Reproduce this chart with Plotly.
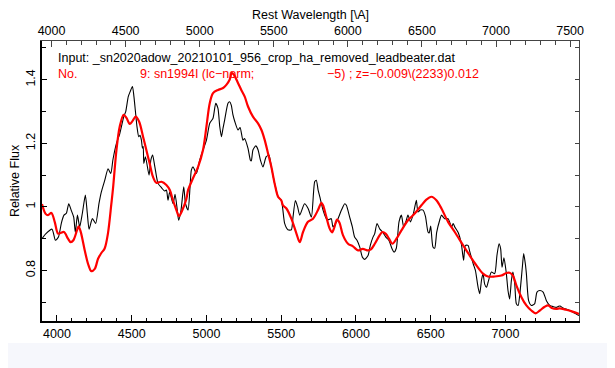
import plotly.graph_objects as go

# Observed spectrum (black): wavelength [A], relative flux
obs_wave = [3900, 3925, 3967, 3990, 4010, 4030, 4047, 4063, 4079, 4095, 4112, 4123, 4137, 4152, 4170, 4190,
            4203, 4215, 4237, 4259, 4281, 4297, 4320, 4342, 4360, 4375, 4398, 4420, 4447, 4460, 4477, 4490,
            4505, 4515, 4524, 4536, 4547, 4556, 4565, 4572, 4577, 4581, 4592, 4616, 4628, 4640, 4655, 4676,
            4700, 4720, 4732, 4743, 4754, 4777, 4790, 4805, 4814, 4830, 4848, 4860, 4877, 4890, 4899, 4910,
            4933, 4955, 4977, 5000, 5022, 5044, 5062, 5077, 5089, 5100, 5111, 5122, 5144, 5155, 5166, 5177,
            5190, 5211, 5225, 5244, 5255, 5278, 5294, 5300, 5311, 5330, 5345, 5361, 5378, 5400, 5418, 5434,
            5456, 5479, 5501, 5523, 5545, 5568, 5579, 5595, 5610, 5624, 5656, 5680, 5702, 5724, 5735, 5747,
            5758, 5780, 5802, 5815, 5835, 5846, 5860, 5880, 5903, 5925, 5936, 5958, 5976, 5991, 6007, 6025,
            6043, 6058, 6081, 6096, 6114, 6125, 6141, 6160, 6180, 6200, 6220, 6240, 6255, 6270, 6288, 6304,
            6319, 6335, 6348, 6365, 6385, 6404, 6415, 6430, 6449, 6465, 6482, 6490, 6500, 6515, 6527, 6540,
            6560, 6572, 6593, 6616, 6640, 6650, 6661, 6683, 6705, 6720, 6732, 6750, 6761, 6785, 6799, 6817,
            6828, 6840, 6850, 6861, 6873, 6884, 6906, 6928, 6943, 6957, 6968, 6977, 6990, 7005, 7017, 7028,
            7040, 7050, 7062, 7073, 7085, 7095, 7113, 7122, 7133, 7140, 7155, 7173, 7195, 7211, 7230, 7252,
            7274, 7296, 7320, 7340, 7355, 7365, 7385, 7420, 7455, 7492]
obs_flux = [0.90, 0.915, 0.93, 0.895, 0.905, 0.95, 0.974, 0.98, 1.01, 0.99, 0.968, 0.92, 0.974, 0.937, 0.98, 1.037,
            0.98, 0.93, 0.963, 0.948, 1.01, 1.047, 1.084, 1.12, 1.105, 1.15, 1.20, 1.23, 1.284, 1.30, 1.347, 1.363,
            1.379, 1.347, 1.305, 1.25, 1.221, 1.225, 1.21, 1.185, 1.19, 1.137, 1.158, 1.10, 1.147, 1.163, 1.126, 1.074,
            1.06, 1.05, 1.053, 1.021, 1.047, 1.01, 1.04, 0.99, 0.958, 0.99, 1.063, 1.01, 0.99, 1.06, 1.116, 1.126,
            1.105, 1.147, 1.179, 1.21, 1.263, 1.279, 1.326, 1.31, 1.253, 1.221, 1.248, 1.274, 1.326, 1.331, 1.32, 1.29,
            1.268, 1.242, 1.25, 1.21, 1.215, 1.184, 1.147, 1.145, 1.179, 1.192, 1.18, 1.147, 1.126, 1.158, 1.163, 1.126,
            1.074, 1.032, 1.021, 0.948, 0.928, 0.928, 0.968, 1.02, 1.0, 0.974, 1.01, 0.995, 0.968, 1.079, 1.084, 1.053,
            1.032, 0.99, 0.963, 0.96, 0.963, 0.937, 0.945, 0.963, 0.99, 1.01, 1.005, 0.968, 0.937, 0.905, 0.895, 0.874,
            0.842, 0.835, 0.847, 0.879, 0.905, 0.915, 0.948, 0.93, 0.92, 0.905, 0.895, 0.87, 0.858, 0.87, 0.953, 0.974,
            0.937, 0.955, 0.974, 0.953, 0.98, 1.021, 0.984, 0.99, 0.99, 0.97, 0.921, 0.918, 0.94, 0.874, 0.87, 0.92,
            0.958, 0.974, 0.963, 0.963, 0.937, 0.948, 0.937, 0.92, 0.884, 0.832, 0.879, 0.879, 0.86, 0.82, 0.80, 0.747,
            0.727, 0.77, 0.79, 0.757, 0.747, 0.763, 0.795, 0.79, 0.847, 0.884, 0.868, 0.81, 0.84, 0.795, 0.737, 0.71,
            0.77, 0.795, 0.758, 0.695, 0.69, 0.72, 0.81, 0.853, 0.821, 0.79, 0.705, 0.69, 0.695, 0.732, 0.737, 0.732,
            0.705, 0.69, 0.686, 0.684, 0.687, 0.688, 0.682, 0.676, 0.668, 0.658]

# Template spectrum (red): sn1994I
tpl_wave = [3900, 3923, 3940, 3963, 3985, 4007, 4025, 4047, 4074, 4092, 4110, 4134, 4145, 4160, 4186, 4208,
            4230, 4253, 4275, 4297, 4319, 4341, 4364, 4375, 4398, 4420, 4446, 4465, 4487, 4505, 4527, 4550,
            4576, 4598, 4620, 4642, 4665, 4699, 4732, 4755, 4776, 4799, 4816, 4839, 4866, 4877, 4910, 4944,
            4977, 5000, 5022, 5044, 5077, 5111, 5133, 5155, 5170, 5185, 5211, 5233, 5256, 5278, 5311, 5345,
            5368, 5390, 5412, 5434, 5456, 5479, 5500, 5512, 5535, 5568, 5602, 5624, 5646, 5679, 5713, 5746,
            5769, 5780, 5802, 5824, 5840, 5855, 5873, 5890, 5913, 5947, 5980, 6014, 6045, 6081, 6100, 6126,
            6159, 6177, 6200, 6221, 6244, 6271, 6304, 6348, 6393, 6438, 6471, 6505, 6538, 6572, 6616, 6661,
            6717, 6761, 6806, 6850, 6883, 6928, 6973, 7006, 7028, 7050, 7073, 7107, 7140, 7173, 7202, 7230,
            7263, 7286, 7310, 7340, 7363, 7400, 7440, 7492]
tpl_flux = [1.009, 0.979, 0.974, 0.981, 0.953, 0.916, 0.918, 0.921, 0.900, 0.889, 0.895, 0.926, 0.939, 0.92, 0.863, 0.821,
            0.798, 0.805, 0.837, 0.855, 0.869, 0.916, 1.01, 1.058, 1.179, 1.253, 1.29, 1.28, 1.261, 1.27, 1.284, 1.268,
            1.221, 1.179, 1.137, 1.095, 1.076, 1.079, 1.069, 1.053, 1.021, 0.99, 0.971, 0.99, 1.026, 1.053, 1.09, 1.126,
            1.179, 1.253, 1.326, 1.358, 1.368, 1.374, 1.384, 1.40, 1.422, 1.415, 1.39, 1.368, 1.347, 1.316, 1.284, 1.263,
            1.242, 1.21, 1.168, 1.126, 1.074, 1.032, 1.021, 1.005, 0.995, 0.963, 0.916, 0.889, 0.921, 0.953, 0.963, 0.99,
            1.013, 1.005, 0.968, 0.932, 0.92, 0.935, 0.96, 0.95, 0.911, 0.884, 0.876, 0.863, 0.868, 0.863, 0.866, 0.884,
            0.911, 0.921, 0.915, 0.900, 0.884, 0.900, 0.926, 0.958, 0.979, 1.005, 1.023, 1.032, 1.021, 0.995, 0.953, 0.921,
            0.879, 0.847, 0.816, 0.79, 0.781, 0.781, 0.784, 0.792, 0.793, 0.784, 0.753, 0.716, 0.69, 0.674, 0.665, 0.674,
            0.686, 0.69, 0.682, 0.679, 0.681, 0.677, 0.672, 0.663]

x_range = [3900, 7492]
z_fit = -0.009
rest_range = [v / (1 + z_fit) for v in x_range]
y_range = [0.641, 1.522]

FONT = "Liberation Sans, Arial, Helvetica, sans-serif"

fig = go.Figure()
fig.add_trace(go.Scatter(x=obs_wave, y=obs_flux, mode="lines", line=dict(color="black", width=1.1, shape="spline", smoothing=0.6),
                         showlegend=False, hoverinfo="skip"))
fig.add_trace(go.Scatter(x=tpl_wave, y=tpl_flux, mode="lines", line=dict(color="#ff0000", width=2.2, shape="spline", smoothing=0.9),
                         showlegend=False, hoverinfo="skip"))
# helper trace so that the top/right axes are drawn
fig.add_trace(go.Scatter(x=[None], y=[None], xaxis="x2", yaxis="y2", showlegend=False, hoverinfo="skip"))

tickfont = dict(family=FONT, size=12.5, color="black")

fig.update_layout(
    width=607, height=360,
    margin=dict(l=34, r=36, t=33, b=47, autoexpand=False),
    paper_bgcolor="white", plot_bgcolor="white",
    font=dict(family=FONT, size=12.5, color="black"),
    xaxis=dict(range=x_range, tick0=4000, dtick=500, ticks="inside", ticklen=6, tickwidth=1, tickcolor="black",
               minor=dict(dtick=100, ticks="inside", ticklen=3.5, tickcolor="black"), automargin=False,
               showline=True, linecolor="black", linewidth=1.5, showgrid=False, zeroline=False, tickfont=tickfont),
    xaxis2=dict(range=rest_range, overlaying="x", side="top", tick0=4000, dtick=500, ticks="inside", ticklen=6,
                tickcolor="#444", minor=dict(dtick=100, ticks="inside", ticklen=3.5, tickcolor="#444"),
                showline=True, linecolor="#444", linewidth=1, showgrid=False, zeroline=False, tickfont=tickfont,
                automargin=False,
                title=dict(text="Rest Wavelength [\\A]", font=dict(family=FONT, size=12.5), standoff=6)),
    yaxis=dict(range=y_range, tick0=0.8, dtick=0.2, ticks="inside", ticklen=5, tickcolor="black", tickangle=-90,
               minor=dict(dtick=0.1, ticks="inside", ticklen=4, tickcolor="black"), automargin=False,
               showline=True, linecolor="black", linewidth=1.8, showgrid=False, zeroline=False, tickfont=tickfont,
               title=dict(text="Relative Flux", font=dict(family=FONT, size=12.5), standoff=4)),
    yaxis2=dict(range=y_range, overlaying="y", side="right", tick0=0.8, dtick=0.1, ticks="inside", ticklen=4,
                tickcolor="#444", showticklabels=False, showline=True, linecolor="#444", linewidth=1,
                showgrid=False, zeroline=False, automargin=False),
)

# light band at the bottom of the page
fig.add_shape(type="rect", xref="paper", yref="paper", x0=-0.2, x1=1.2, y0=-0.2, y1=-0.0786,
              fillcolor="#f6f7fc", line=dict(width=0), layer="below")

ann_font_black = dict(family=FONT, size=12.5, color="black")
ann_font_red = dict(family=FONT, size=12.5, color="#ff0000")
fig.add_annotation(xref="paper", yref="paper", x=0.0268, y=0.938, xanchor="left", yanchor="middle", showarrow=False,
                   text="Input: _sn2020adow_20210101_956_crop_ha_removed_leadbeater.dat", font=ann_font_black)
fig.add_annotation(xref="paper", yref="paper", x=0.0268, y=0.882, xanchor="left", yanchor="middle", showarrow=False,
                   text="No.", font=ann_font_red)
fig.add_annotation(xref="paper", yref="paper", x=0.1788, y=0.882, xanchor="left", yanchor="middle", showarrow=False,
                   text="9: sn1994I (lc\u2212norm;", font=ann_font_red)
fig.add_annotation(xref="paper", yref="paper", x=0.5277, y=0.882, xanchor="left", yanchor="middle", showarrow=False,
                   text="\u22125) ; z=\u22120.009\\(2233)0.012", font=ann_font_red)

fig.write_html("out.html")
